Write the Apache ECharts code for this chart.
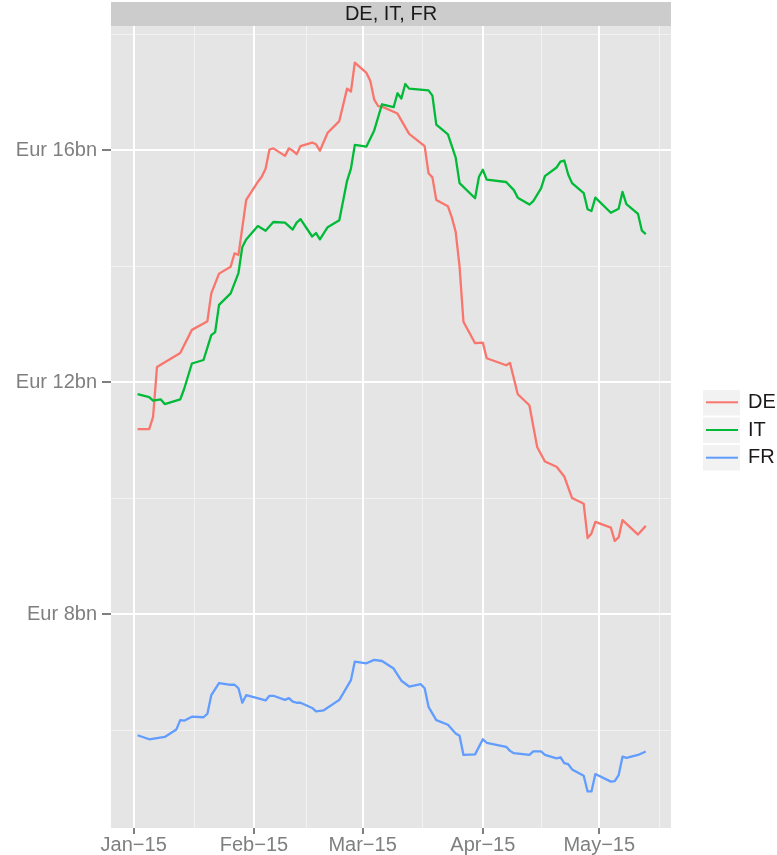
<!DOCTYPE html>
<html>
<head>
<meta charset="utf-8">
<script src="https://cdn.jsdelivr.net/npm/echarts@6/dist/echarts.min.js"></script>
<style>
  html, body { margin: 0; padding: 0; background: #fff; }
  #chart { width: 777px; height: 855px; }
</style>
</head>
<body>
<div id="chart"></div>
<script>
// series names, legend order
const seriesNames = ['DE', 'IT', 'FR'];
const seriesColors = ['#F8766D', '#00BA38', '#619CFF'];

// DE
const deDates = ['2015-01-02','2015-01-05','2015-01-06','2015-01-07','2015-01-13','2015-01-16','2015-01-19','2015-01-20',
  '2015-01-21','2015-01-23','2015-01-26','2015-01-27','2015-01-28','2015-01-30','2015-02-02','2015-02-03','2015-02-04',
  '2015-02-05','2015-02-06','2015-02-09','2015-02-10','2015-02-11','2015-02-12','2015-02-13','2015-02-16','2015-02-17',
  '2015-02-18','2015-02-20','2015-02-23','2015-02-25','2015-02-26','2015-02-27','2015-03-02','2015-03-03','2015-03-04',
  '2015-03-05','2015-03-06','2015-03-10','2015-03-13','2015-03-17','2015-03-18','2015-03-19','2015-03-20','2015-03-23',
  '2015-03-24','2015-03-25','2015-03-26','2015-03-27','2015-03-30','2015-04-01','2015-04-02','2015-04-07','2015-04-08',
  '2015-04-10','2015-04-13','2015-04-15','2015-04-17','2015-04-20','2015-04-22','2015-04-24','2015-04-27','2015-04-28',
  '2015-04-29','2015-04-30','2015-05-04','2015-05-05','2015-05-06','2015-05-07','2015-05-11','2015-05-13'];
const deValues = [11.19,11.19,11.40,12.26,12.50,12.90,13.01,13.05,
  13.53,13.87,13.99,14.22,14.19,15.14,15.45,15.54,15.68,
  16.01,16.03,15.90,16.03,15.99,15.93,16.07,16.13,16.10,
  15.99,16.30,16.50,17.06,17.01,17.51,17.33,17.19,16.87,
  16.76,16.75,16.63,16.28,16.07,15.60,15.53,15.14,15.03,
  14.84,14.59,13.99,13.04,12.67,12.68,12.41,12.29,12.33,
  11.79,11.60,10.88,10.63,10.54,10.37,10.00,9.90,9.31,
  9.39,9.59,9.49,9.26,9.32,9.62,9.37,9.52];

// IT
const itDates = ['2015-01-02','2015-01-05','2015-01-06','2015-01-08','2015-01-09','2015-01-13','2015-01-14','2015-01-16',
  '2015-01-19','2015-01-21','2015-01-22','2015-01-23','2015-01-26','2015-01-28','2015-01-29','2015-01-30','2015-02-02',
  '2015-02-04','2015-02-06','2015-02-09','2015-02-11','2015-02-12','2015-02-13','2015-02-16','2015-02-17','2015-02-18',
  '2015-02-20','2015-02-23','2015-02-25','2015-02-26','2015-02-27','2015-03-02','2015-03-04','2015-03-06','2015-03-09',
  '2015-03-10','2015-03-11','2015-03-12','2015-03-13','2015-03-18','2015-03-19','2015-03-20','2015-03-23','2015-03-25',
  '2015-03-26','2015-03-30','2015-03-31','2015-04-01','2015-04-02','2015-04-07','2015-04-09','2015-04-10','2015-04-13',
  '2015-04-14','2015-04-16','2015-04-17','2015-04-20','2015-04-21','2015-04-22','2015-04-23','2015-04-24','2015-04-27',
  '2015-04-28','2015-04-29','2015-04-30','2015-05-04','2015-05-06','2015-05-07','2015-05-08','2015-05-11','2015-05-12',
  '2015-05-13'];
const itValues = [11.79,11.74,11.68,11.70,11.62,11.70,11.88,12.32,
  12.38,12.81,12.86,13.33,13.53,13.88,14.33,14.46,14.69,
  14.61,14.76,14.75,14.63,14.75,14.81,14.51,14.57,14.46,
  14.67,14.79,15.47,15.68,16.09,16.06,16.34,16.79,16.74,
  16.98,16.89,17.14,17.06,17.03,16.94,16.44,16.27,15.87,
  15.43,15.17,15.54,15.66,15.49,15.45,15.31,15.18,15.06,
  15.12,15.34,15.55,15.70,15.80,15.82,15.58,15.43,15.26,
  14.98,14.95,15.18,14.92,14.99,15.28,15.07,14.90,14.61,
  14.55];

// FR
const frDates = ['2015-01-02','2015-01-05','2015-01-07','2015-01-09','2015-01-12','2015-01-13','2015-01-14','2015-01-16',
  '2015-01-19','2015-01-20','2015-01-21','2015-01-23','2015-01-26','2015-01-27','2015-01-28','2015-01-29','2015-01-30',
  '2015-02-04','2015-02-05','2015-02-06','2015-02-09','2015-02-10','2015-02-11','2015-02-12','2015-02-13','2015-02-16',
  '2015-02-17','2015-02-19','2015-02-23','2015-02-24','2015-02-26','2015-02-27','2015-03-02','2015-03-04','2015-03-06',
  '2015-03-09','2015-03-11','2015-03-13','2015-03-16','2015-03-17','2015-03-18','2015-03-20','2015-03-23','2015-03-25',
  '2015-03-26','2015-03-27','2015-03-30','2015-04-01','2015-04-02','2015-04-07','2015-04-08','2015-04-09','2015-04-13',
  '2015-04-14','2015-04-16','2015-04-17','2015-04-20','2015-04-21','2015-04-22','2015-04-23','2015-04-24','2015-04-27',
  '2015-04-28','2015-04-29','2015-04-30','2015-05-04','2015-05-05','2015-05-06','2015-05-07','2015-05-08','2015-05-11',
  '2015-05-13'];
const frValues = [5.91,5.84,5.86,5.88,6.01,6.17,6.16,6.23,
  6.22,6.28,6.60,6.81,6.78,6.78,6.72,6.47,6.60,
  6.51,6.59,6.59,6.52,6.55,6.49,6.47,6.47,6.38,
  6.32,6.34,6.52,6.63,6.86,7.18,7.15,7.21,7.19,
  7.06,6.85,6.75,6.79,6.72,6.40,6.17,6.09,5.94,
  5.90,5.57,5.58,5.84,5.78,5.71,5.64,5.60,5.57,
  5.63,5.63,5.57,5.51,5.53,5.43,5.41,5.32,5.21,
  4.94,4.94,5.24,5.11,5.12,5.22,5.54,5.52,5.57,
  5.63];

// axis ticks / labels
const monthTicks = ['2015-01-01','2015-02-01','2015-03-01','2015-04-01','2015-05-01'];
const monthLabels = ['Jan\u221215','Feb\u221215','Mar\u221215','Apr\u221215','May\u221215'];
const monthMinor = ['2015-01-16 12:00','2015-02-14 12:00','2015-03-16 12:00','2015-04-16 00:00','2015-05-16 12:00'];
const yMajor = [8, 12, 16];
const yMinor = [6, 10, 14, 18];

const FONT = '"Liberation Sans", Arial, sans-serif';
const toTime = s => echarts.number.parseDate(s).getTime();
const tickTimes = monthTicks.map(toTime);

const pairs = (dates, vals) => dates.map((d, i) => [toTime(d), vals[i]]);
const seriesData = [pairs(deDates, deValues), pairs(itDates, itValues), pairs(frDates, frValues)];

const majorStyle = { color: '#FFFFFF', width: 2, type: 'solid', opacity: 1 };
const minorStyle = { color: '#F2F2F2', width: 1, type: 'solid', opacity: 1 };

// grid lines (drawn under the series)
const gridLines = []
  .concat(yMinor.map(v => ({ yAxis: v, lineStyle: minorStyle })))
  .concat(monthMinor.map(d => ({ xAxis: toTime(d), lineStyle: minorStyle })))
  .concat(yMajor.map(v => ({ yAxis: v, lineStyle: majorStyle })))
  .concat(tickTimes.map(t => ({ xAxis: t, lineStyle: majorStyle })));

let myChart = echarts.init(document.getElementById('chart'), null, { renderer: 'canvas' });

let option = {
  animation: false,
  grid: {
    left: 111, right: 106, top: 26, bottom: 27,
    show: true, backgroundColor: '#E5E5E5', borderWidth: 0,
    containLabel: false, outerBoundsMode: 'none'
  },
  graphic: [
    { type: 'rect', shape: { x: 111, y: 2, width: 560, height: 24 }, style: { fill: '#CCCCCC' }, z: 10 },
    { type: 'text', x: 391, y: 14, z: 11,
      style: { text: 'DE, IT, FR', fill: '#1A1A1A', fontSize: 20, fontFamily: FONT, align: 'center', verticalAlign: 'middle' } },
    // legend key backgrounds
    { type: 'rect', shape: { x: 703, y: 390, width: 37, height: 25.5 }, style: { fill: '#F2F2F2' } },
    { type: 'rect', shape: { x: 703, y: 417.5, width: 37, height: 25.5 }, style: { fill: '#F2F2F2' } },
    { type: 'rect', shape: { x: 703, y: 445, width: 37, height: 25.5 }, style: { fill: '#F2F2F2' } }
  ],
  legend: {
    data: seriesNames,
    orient: 'vertical',
    left: 706, top: 391.3,
    padding: 0,
    icon: 'rect',
    itemWidth: 32, itemHeight: 2, itemGap: 5.7,
    textStyle: { fontSize: 20, color: '#1A1A1A', fontFamily: FONT, lineHeight: 22, padding: [0, 0, 0, 5] }
  },
  xAxis: {
    type: 'value',
    min: toTime('2014-12-26 03:36'),
    max: toTime('2015-05-19 12:00'),
    axisLine: { show: false },
    axisTick: { show: true, length: 6, customValues: tickTimes, lineStyle: { color: '#7F7F7F', width: 2 } },
    axisLabel: {
      customValues: tickTimes,
      color: '#7F7F7F', fontSize: 20, fontFamily: FONT, margin: 7,
      formatter: v => {
        const i = tickTimes.findIndex(t => Math.abs(t - v) < 3600000);
        return i >= 0 ? monthLabels[i] : '';
      }
    },
    splitLine: { show: false },
    minorSplitLine: { show: false }
  },
  yAxis: {
    type: 'value',
    min: 4.31, max: 18.14,
    axisLine: { show: false },
    axisTick: { show: true, length: 9, customValues: yMajor, lineStyle: { color: '#7F7F7F', width: 2 } },
    axisLabel: {
      customValues: yMajor,
      color: '#7F7F7F', fontSize: 20, fontFamily: FONT, margin: 14,
      formatter: v => 'Eur ' + v + 'bn'
    },
    splitLine: { show: false },
    minorSplitLine: { show: false }
  },
  series: [
    {
      name: '_grid', type: 'line', data: [], silent: true, z: 1,
      markLine: { silent: true, symbol: ['none', 'none'], label: { show: false }, animation: false, z: 1, data: gridLines }
    }
  ].concat(seriesNames.map((name, i) => ({
    name: name,
    type: 'line',
    data: seriesData[i],
    symbol: 'none',
    showSymbol: false,
    z: 3,
    color: seriesColors[i],
    lineStyle: { color: seriesColors[i], width: 2.3, join: 'round' }
  })))
};

myChart.setOption(option);
</script>
</body>
</html>
